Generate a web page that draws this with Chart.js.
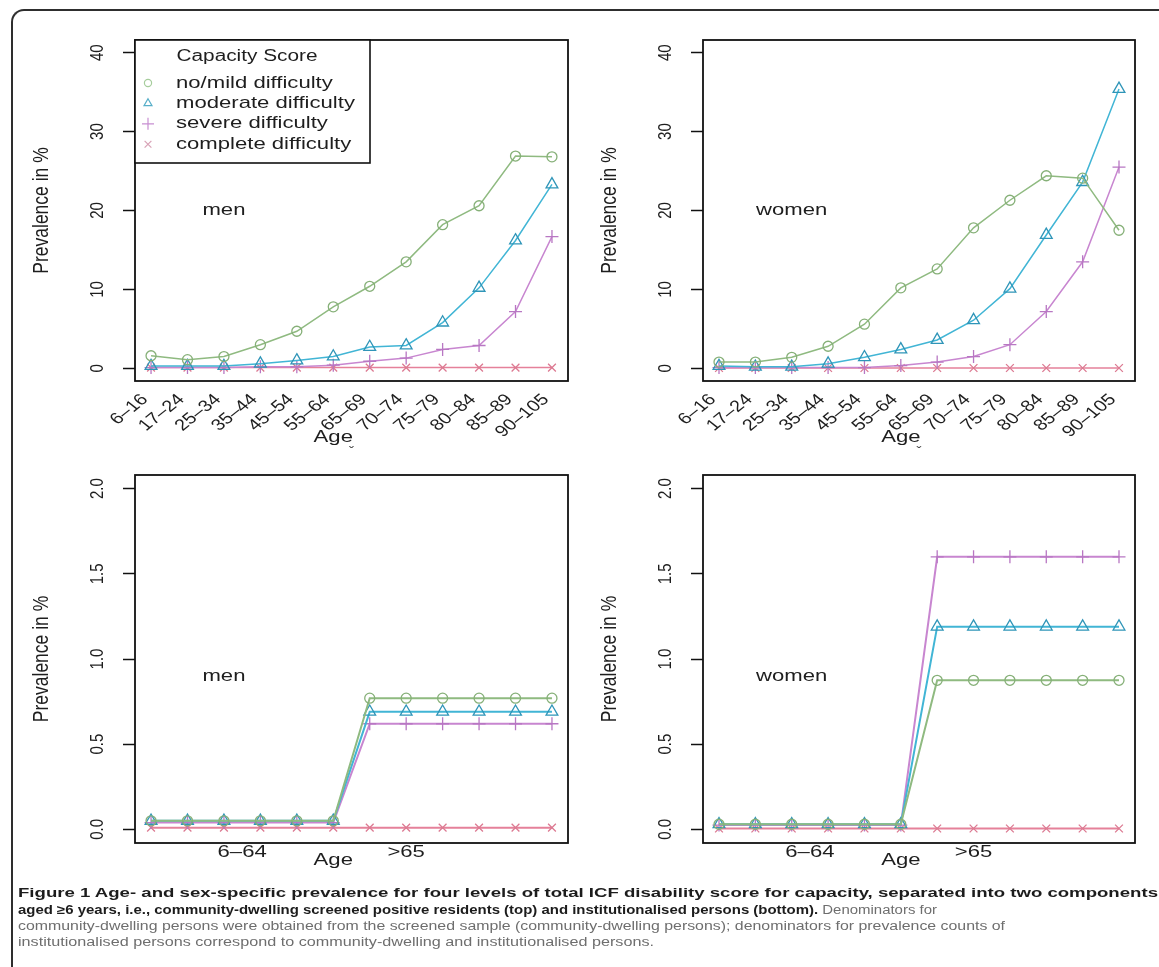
<!DOCTYPE html>
<html><head><meta charset="utf-8">
<script src="https://cdn.jsdelivr.net/npm/chart.js@4.4.0/dist/chart.umd.min.js"></script>
<style>
html,body{margin:0;padding:0;background:#fff;width:1159px;height:967px;overflow:hidden;position:relative;}
#frame{position:absolute;left:11px;top:9px;width:1200px;height:1000px;border-left:2px solid #2e2e2e;border-top:2px solid #2e2e2e;border-top-left-radius:13px;}
.panel{position:absolute;}
.panel canvas{display:block;}
.cap{position:absolute;left:18px;white-space:nowrap;font-family:'Liberation Sans',Arial,sans-serif;font-size:12.5px;line-height:16px;transform-origin:0 50%;}
.b{font-weight:bold;color:#1c1c1c;}
.g{font-weight:normal;color:#6e6e6e;}
</style></head><body>
<div id="frame"></div>
<div class="panel" style="left:0;top:0"><canvas id="c1" width="580" height="470"></canvas></div>
<div class="panel" style="left:580px;top:0"><canvas id="c2" width="579" height="470"></canvas></div>
<div class="panel" style="left:0;top:460px"><canvas id="c3" width="580" height="420"></canvas></div>
<div class="panel" style="left:580px;top:460px"><canvas id="c4" width="579" height="420"></canvas></div>

<div class="cap b" id="l1" style="top:885px">Figure 1 Age- and sex-specific prevalence for four levels of total ICF disability score for capacity, separated into two components</div>
<div class="cap b" id="l2" style="top:902px">aged ≥6 years, i.e., community-dwelling screened positive residents (top) and institutionalised persons (bottom). <span class="g">Denominators for</span></div>
<div class="cap g" id="l3" style="top:918px">community-dwelling persons were obtained from the screened sample (community-dwelling persons); denominators for prevalence counts of</div>
<div class="cap g" id="l4" style="top:934px">institutionalised persons correspond to community-dwelling and institutionalised persons.</div>

<script>
// ---------- data ----------
const ageGroups = ['6–16','17–24','25–34','35–44','45–54','55–64','65–69','70–74','75–79','80–84','85–89','90–105'];
const seriesLabels = ['no/mild difficulty','moderate difficulty','severe difficulty','complete difficulty'];
const legendTitle = 'Capacity Score';
const yTitle = 'Prevalence in %';
const xTitle = 'Age';
const panelNames = ['men','women'];
const topYTicks = [0, 10, 20, 30, 40];
const bottomYTicks = [0, 0.5, 1.0, 1.5, 2.0];
const instGroupLabels = ['6–64', '>65'];
const instGroupAt = [3.5, 8];

// community-dwelling (top)
const menMild      = [1.6, 1.1, 1.5, 3.0, 4.7, 7.8, 10.4, 13.5, 18.2, 20.6, 26.9, 26.8];
const menModerate  = [0.3, 0.3, 0.3, 0.6, 1.0, 1.5, 2.7, 2.9, 5.8, 10.2, 16.2, 23.3];
const menSevere    = [0.1, 0.1, 0.1, 0.2, 0.2, 0.4, 0.9, 1.3, 2.4, 2.9, 7.2, 16.7];
const menComplete  = [0.1, 0.1, 0.1, 0.1, 0.1, 0.1, 0.1, 0.1, 0.1, 0.1, 0.1, 0.1];
const womenMild     = [0.8, 0.8, 1.4, 2.8, 5.6, 10.2, 12.6, 17.8, 21.3, 24.4, 24.1, 17.5];
const womenModerate = [0.3, 0.2, 0.2, 0.6, 1.4, 2.4, 3.6, 6.1, 10.1, 16.9, 23.6, 35.4];
const womenSevere   = [0.1, 0.1, 0.1, 0.1, 0.1, 0.35, 0.8, 1.5, 3.0, 7.2, 13.5, 25.5];
const womenComplete = [0.05, 0.05, 0.05, 0.05, 0.05, 0.05, 0.05, 0.05, 0.05, 0.05, 0.05, 0.05];

// institutionalised (bottom)
const menInstMild      = [0.05, 0.05, 0.05, 0.05, 0.05, 0.05, 0.77, 0.77, 0.77, 0.77, 0.77, 0.77];
const menInstModerate  = [0.05, 0.05, 0.05, 0.05, 0.05, 0.05, 0.69, 0.69, 0.69, 0.69, 0.69, 0.69];
const menInstSevere    = [0.04, 0.04, 0.04, 0.04, 0.04, 0.04, 0.62, 0.62, 0.62, 0.62, 0.62, 0.62];
const menInstComplete  = [0.01, 0.01, 0.01, 0.01, 0.01, 0.01, 0.01, 0.01, 0.01, 0.01, 0.01, 0.01];
const womenInstMild     = [0.03, 0.03, 0.03, 0.03, 0.03, 0.03, 0.875, 0.875, 0.875, 0.875, 0.875, 0.875];
const womenInstModerate = [0.03, 0.03, 0.03, 0.03, 0.03, 0.03, 1.19, 1.19, 1.19, 1.19, 1.19, 1.19];
const womenInstSevere   = [0.025, 0.025, 0.025, 0.025, 0.025, 0.025, 1.6, 1.6, 1.6, 1.6, 1.6, 1.6];
const womenInstComplete = [0.005, 0.005, 0.005, 0.005, 0.005, 0.005, 0.005, 0.005, 0.005, 0.005, 0.005, 0.005];

// ---------- styles ----------
const FF = "'Liberation Sans', Arial, Helvetica, sans-serif";
const TXT = '#1e1e1e';
const seriesStyle = [
  {pointStyle:'circle',   line:'#8fba80', point:'#86b078', r:5,   legend:'#a6cd9c', lr:3.6},
  {pointStyle:'triangle', line:'#41b5d5', point:'#2f95b8', r:6.8, legend:'#58afc9', lr:4.6},
  {pointStyle:'cross',    line:'#c886d0', point:'#b877c3', r:6.5, legend:'#c88fd2', lr:6},
  {pointStyle:'crossRot', line:'#e5819a', point:'#dc7a92', r:5.5, legend:'#d8a2b6', lr:4.8}
];

function txt(ctx, s, x, y, o) {
  ctx.save();
  ctx.translate(x, y);
  ctx.scale(o.kx || 1, 1);
  if (o.rot) ctx.rotate(o.rot);
  ctx.font = o.font;
  ctx.fillStyle = o.color || TXT;
  ctx.textAlign = o.align || 'center';
  ctx.textBaseline = o.base || 'middle';
  ctx.fillText(s, 0, 0);
  ctx.restore();
}

const rDecor = {
  id: 'rDecor',
  afterDatasetsDraw(chart, args, o) {
    const ctx = chart.ctx, ca = chart.chartArea, xs = chart.scales.x, ys = chart.scales.y;
    ctx.save();
    ctx.strokeStyle = '#111'; ctx.lineWidth = 1.8;
    ctx.strokeRect(ca.left, ca.top, ca.right - ca.left, ca.bottom - ca.top);
    ctx.restore();
    ys.ticks.forEach(t => {
      txt(ctx, o.yDigits ? t.value.toFixed(o.yDigits) : String(t.value), ca.left - 37, ys.getPixelForValue(t.value),
          {font: '15px ' + FF, rot: -Math.PI / 2, kx: 1.25});
    });
    txt(ctx, yTitle, ca.left - 93, (ca.top + ca.bottom) / 2, {font: '17.5px ' + FF, rot: -Math.PI / 2, kx: 1.25});
    if (o.rotLabels) {
      o.rotLabels.forEach((lab, i) => {
        txt(ctx, lab, xs.getPixelForValue(i + 1) - 6, ca.bottom + 16,
            {font: '16px ' + FF, rot: -45 * Math.PI / 180, kx: 1.25, align: 'right'});
      });
    }
    if (o.flatLabels) {
      o.flatLabels.forEach((lab, i) => {
        txt(ctx, lab, xs.getPixelForValue(o.flatAt[i]), ca.bottom + 9, {font: '17px ' + FF, kx: 1.3});
      });
    }
    txt(ctx, xTitle, xs.getPixelForValue(6), ca.bottom + o.ageDy, {font: '17px ' + FF, kx: 1.3});
    if (o.mark) {
      txt(ctx, 'ˇ', (ca.left + ca.right) / 2, ca.bottom + 72, {font: '15px ' + FF, color: '#444'});
    }
    txt(ctx, o.name, xs.getPixelForValue(3), ys.getPixelForValue(o.nameY), {font: '17px ' + FF, kx: 1.3});
    if (o.legend) {
      const L = ca.left, T = ca.top, W = 235, H = 123;
      ctx.save();
      ctx.fillStyle = '#fff'; ctx.fillRect(L, T, W, H);
      ctx.strokeStyle = '#111'; ctx.lineWidth = 1.6; ctx.strokeRect(L, T, W, H);
      ctx.restore();
      txt(ctx, legendTitle, L + 112, T + 17, {font: '16px ' + FF, kx: 1.3});
      seriesLabels.forEach((lab, i) => {
        const yy = T + 43 + i * 20.4;
        const st = seriesStyle[i];
        ctx.save();
        ctx.strokeStyle = st.legend; ctx.fillStyle = 'rgba(0,0,0,0)'; ctx.lineWidth = 1.2;
        Chart.helpers.drawPoint(ctx, {pointStyle: st.pointStyle, rotation: 0, radius: st.lr, borderWidth: 1.2}, L + 13, yy);
        ctx.restore();
        txt(ctx, lab, L + 41, yy, {font: '17px ' + FF, kx: 1.3, align: 'left'});
      });
    }
  }
};

function makeDatasets(arrs, lw) {
  return arrs.map((a, i) => ({
    label: seriesLabels[i],
    data: a.map((v, j) => ({x: j + 1, y: v})),
    borderColor: seriesStyle[i].line,
    borderWidth: lw,
    pointStyle: seriesStyle[i].pointStyle,
    pointRadius: seriesStyle[i].r,
    pointBorderColor: seriesStyle[i].point,
    pointBackgroundColor: 'rgba(0,0,0,0)',
    pointBorderWidth: 1.3,
    tension: 0,
    fill: false,
    clip: false
  }));
}

function makePanel(id, arrs, cfg) {
  new Chart(document.getElementById(id), {
    type: 'line',
    data: {datasets: makeDatasets(arrs, cfg.lw)},
    plugins: [rDecor],
    options: {
      responsive: false, animation: false, devicePixelRatio: 1,
      layout: {padding: {left: 0, top: cfg.padTop, right: cfg.padRight, bottom: 0}},
      plugins: {legend: {display: false}, tooltip: {enabled: false}, rDecor: cfg.decor},
      scales: {
        x: {type: 'linear', min: 0.56, max: 12.44,
            ticks: {display: false}, grid: {display: false}, border: {display: false},
            afterFit: s => { s.height = cfg.xH; }},
        y: {type: 'linear', min: cfg.yMin, max: cfg.yMax,
            afterBuildTicks: s => { s.ticks = cfg.yTicks.map(v => ({value: v})); },
            ticks: {display: false},
            grid: {drawOnChartArea: false, drawTicks: true, tickLength: 12, tickColor: '#111', tickWidth: 1.5},
            border: {display: false},
            afterFit: s => { s.width = cfg.yW; }}
      }
    }
  });
}

makePanel('c1', [menMild, menModerate, menSevere, menComplete], {
  lw: 1.5, padTop: 40, padRight: 12, xH: 89, yW: 135, yMin: -1.6, yMax: 41.6, yTicks: topYTicks,
  decor: {rotLabels: ageGroups, ageDy: 56, mark: true, name: panelNames[0], nameY: 20, legend: true}
});
makePanel('c2', [womenMild, womenModerate, womenSevere, womenComplete], {
  lw: 1.5, padTop: 40, padRight: 24, xH: 89, yW: 123, yMin: -1.6, yMax: 41.6, yTicks: topYTicks,
  decor: {rotLabels: ageGroups, ageDy: 56, mark: true, name: panelNames[1], nameY: 20}
});
makePanel('c3', [menInstMild, menInstModerate, menInstSevere, menInstComplete], {
  lw: 2, padTop: 15, padRight: 12, xH: 37, yW: 135, yMin: -0.08, yMax: 2.08, yTicks: bottomYTicks,
  decor: {flatLabels: instGroupLabels, flatAt: instGroupAt, ageDy: 17, name: panelNames[0], nameY: 0.9, yDigits: 1}
});
makePanel('c4', [womenInstMild, womenInstModerate, womenInstSevere, womenInstComplete], {
  lw: 2, padTop: 15, padRight: 24, xH: 37, yW: 123, yMin: -0.08, yMax: 2.08, yTicks: bottomYTicks,
  decor: {flatLabels: instGroupLabels, flatAt: instGroupAt, ageDy: 17, name: panelNames[1], nameY: 0.9, yDigits: 1}
});

const capWidths = {l1: 1140, l2: 919, l3: 987, l4: 636};
Object.keys(capWidths).forEach(k => {
  const el = document.getElementById(k);
  const w = el.getBoundingClientRect().width;
  el.style.transform = 'scaleX(' + (capWidths[k] / w).toFixed(4) + ')';
});
</script>
</body></html>
